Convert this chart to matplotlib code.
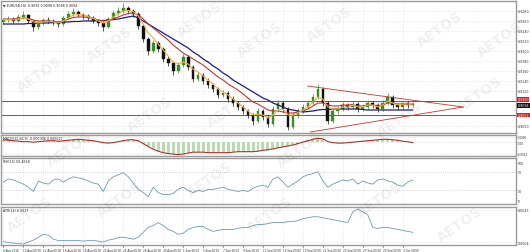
import matplotlib
matplotlib.use("Agg")
import matplotlib.pyplot as plt
import numpy as np

# ---------------- data ----------------
opens = [0.9258, 0.9262, 0.9264, 0.9260, 0.9268, 0.9272, 0.9260, 0.9248, 0.9256, 0.9262,
         0.9260, 0.9256, 0.9254, 0.9266, 0.9274, 0.9278, 0.9272, 0.9270, 0.9266, 0.9260,
         0.9256, 0.9248, 0.9264, 0.9276, 0.9280, 0.9286, 0.9280, 0.9274, 0.9250, 0.9224,
         0.9200, 0.9216, 0.9204, 0.9184, 0.9176, 0.9160, 0.9172, 0.9188, 0.9168, 0.9144,
         0.9152, 0.9140, 0.9132, 0.9124, 0.9112, 0.9116, 0.9104, 0.9096, 0.9088, 0.9080,
         0.9072, 0.9060, 0.9080, 0.9068, 0.9054, 0.9084, 0.9096, 0.9084, 0.9048, 0.9072,
         0.9080, 0.9088, 0.9096, 0.9108, 0.9124, 0.9096, 0.9060, 0.9080, 0.9084, 0.9092,
         0.9088, 0.9094, 0.9084, 0.9088, 0.9096, 0.9092, 0.9084, 0.9096, 0.9108, 0.9092,
         0.9088, 0.9096, 0.9092]
closes = [0.9262, 0.9264, 0.9260, 0.9268, 0.9272, 0.9260, 0.9248, 0.9256, 0.9262, 0.9260,
          0.9256, 0.9254, 0.9266, 0.9274, 0.9278, 0.9272, 0.9270, 0.9266, 0.9260, 0.9256,
          0.9248, 0.9264, 0.9276, 0.9280, 0.9286, 0.9280, 0.9274, 0.9250, 0.9224, 0.9200,
          0.9216, 0.9204, 0.9184, 0.9176, 0.9160, 0.9172, 0.9188, 0.9168, 0.9144, 0.9152,
          0.9140, 0.9132, 0.9124, 0.9112, 0.9116, 0.9104, 0.9096, 0.9088, 0.9080, 0.9072,
          0.9060, 0.9080, 0.9068, 0.9054, 0.9084, 0.9096, 0.9084, 0.9048, 0.9072, 0.9080,
          0.9088, 0.9096, 0.9108, 0.9124, 0.9096, 0.9060, 0.9080, 0.9084, 0.9092, 0.9088,
          0.9094, 0.9084, 0.9088, 0.9096, 0.9092, 0.9084, 0.9096, 0.9108, 0.9092, 0.9088,
          0.9096, 0.9092, 0.9094]
highs = [0.9266, 0.9270, 0.9268, 0.9274, 0.9280, 0.9274, 0.9262, 0.9260, 0.9266, 0.9268,
         0.9264, 0.9260, 0.9270, 0.9280, 0.9286, 0.9282, 0.9276, 0.9274, 0.9270, 0.9264,
         0.9258, 0.9268, 0.9282, 0.9288, 0.9296, 0.9290, 0.9284, 0.9278, 0.9254, 0.9228,
         0.9222, 0.9220, 0.9208, 0.9190, 0.9180, 0.9178, 0.9194, 0.9192, 0.9172, 0.9158,
         0.9156, 0.9146, 0.9136, 0.9128, 0.9122, 0.9120, 0.9110, 0.9100, 0.9092, 0.9084,
         0.9076, 0.9086, 0.9084, 0.9072, 0.9090, 0.9102, 0.9100, 0.9088, 0.9078, 0.9086,
         0.9094, 0.9102, 0.9114, 0.9134, 0.9128, 0.9100, 0.9086, 0.9090, 0.9098, 0.9096,
         0.9100, 0.9098, 0.9094, 0.9102, 0.9100, 0.9096, 0.9102, 0.9116, 0.9112, 0.9096,
         0.9100, 0.9100, 0.9098]
lows = [0.9254, 0.9258, 0.9256, 0.9258, 0.9264, 0.9256, 0.9240, 0.9244, 0.9252, 0.9256,
        0.9252, 0.9248, 0.9250, 0.9262, 0.9270, 0.9268, 0.9264, 0.9262, 0.9256, 0.9250,
        0.9240, 0.9246, 0.9262, 0.9272, 0.9276, 0.9274, 0.9268, 0.9244, 0.9218, 0.9192,
        0.9196, 0.9198, 0.9178, 0.9170, 0.9152, 0.9156, 0.9168, 0.9162, 0.9138, 0.9140,
        0.9134, 0.9126, 0.9118, 0.9106, 0.9108, 0.9098, 0.9090, 0.9082, 0.9074, 0.9066,
        0.9052, 0.9056, 0.9062, 0.9048, 0.9050, 0.9080, 0.9078, 0.9042, 0.9044, 0.9066,
        0.9076, 0.9084, 0.9092, 0.9104, 0.9090, 0.9054, 0.9056, 0.9074, 0.9080, 0.9082,
        0.9084, 0.9078, 0.9080, 0.9084, 0.9086, 0.9078, 0.9080, 0.9092, 0.9086, 0.9082,
        0.9084, 0.9086, 0.9088]

ma_fast = [0.9262, 0.9263, 0.9262, 0.9264, 0.9266, 0.9264, 0.9258, 0.9256, 0.9258, 0.9260,
           0.9258, 0.9256, 0.9260, 0.9266, 0.9272, 0.9273, 0.9272, 0.9269, 0.9265, 0.9260,
           0.9256, 0.9260, 0.9268, 0.9274, 0.9280, 0.9281, 0.9279, 0.9270, 0.9254, 0.9236,
           0.9226, 0.9214, 0.9202, 0.9190, 0.9178, 0.9174, 0.9178, 0.9174, 0.9164, 0.9158,
           0.9150, 0.9142, 0.9134, 0.9124, 0.9118, 0.9112, 0.9104, 0.9096, 0.9088, 0.9080,
           0.9072, 0.9074, 0.9072, 0.9066, 0.9072, 0.9082, 0.9084, 0.9072, 0.9072, 0.9076,
           0.9082, 0.9088, 0.9098, 0.9108, 0.9104, 0.9088, 0.9084, 0.9084, 0.9088, 0.9088,
           0.9092, 0.9088, 0.9088, 0.9092, 0.9092, 0.9088, 0.9092, 0.9100, 0.9096, 0.9092,
           0.9094, 0.9094, 0.9094]
ma_mid = [0.9264, 0.9264, 0.9264, 0.9265, 0.9266, 0.9265, 0.9262, 0.9260, 0.9260, 0.9260,
          0.9259, 0.9258, 0.9260, 0.9264, 0.9267, 0.9268, 0.9268, 0.9267, 0.9265, 0.9262,
          0.9260, 0.9261, 0.9264, 0.9268, 0.9272, 0.9275, 0.9276, 0.9272, 0.9264, 0.9254,
          0.9246, 0.9238, 0.9230, 0.9222, 0.9212, 0.9204, 0.9196, 0.9190, 0.9184, 0.9178,
          0.9172, 0.9164, 0.9156, 0.9148, 0.9142, 0.9134, 0.9128, 0.9122, 0.9114, 0.9106,
          0.9098, 0.9094, 0.9088, 0.9082, 0.9080, 0.9080, 0.9078, 0.9076, 0.9076, 0.9078,
          0.9080, 0.9084, 0.9090, 0.9096, 0.9096, 0.9092, 0.9090, 0.9090, 0.9092, 0.9092,
          0.9092, 0.9090, 0.9090, 0.9092, 0.9092, 0.9090, 0.9092, 0.9096, 0.9096, 0.9094,
          0.9094, 0.9094, 0.9094]
ma_slow = [0.9254, 0.9254, 0.9254, 0.9254, 0.9254, 0.9255, 0.9255, 0.9256, 0.9256, 0.9256,
           0.9257, 0.9257, 0.9258, 0.9258, 0.9259, 0.9259, 0.9260, 0.9260, 0.9260, 0.9261,
           0.9261, 0.9262, 0.9263, 0.9264, 0.9266, 0.9268, 0.9270, 0.9266, 0.9260, 0.9254,
           0.9248, 0.9242, 0.9236, 0.9230, 0.9224, 0.9218, 0.9212, 0.9206, 0.9198, 0.9192,
           0.9184, 0.9178, 0.9170, 0.9164, 0.9156, 0.9150, 0.9142, 0.9136, 0.9130, 0.9124,
           0.9118, 0.9112, 0.9106, 0.9102, 0.9096, 0.9092, 0.9088, 0.9084, 0.9082, 0.9080,
           0.9078, 0.9079, 0.9080, 0.9082, 0.9083, 0.9083, 0.9084, 0.9084, 0.9084, 0.9084,
           0.9084, 0.9084, 0.9083, 0.9082, 0.9082, 0.9082, 0.9082, 0.9082, 0.9082, 0.9082,
           0.9082, 0.9082, 0.9082]

macd = [0.00027, 0.00022, 0.00017, 0.00012, 0.00007, 0.00007, 0.00002, 0.00007, 0.00012, 0.00017,
        0.00017, 0.00012, 0.00017, 0.00022, 0.00027, 0.00032, 0.00027, 0.00022, 0.00017, 0.00007,
        -0.00003, -0.00008, -0.00003, 0.00007, 0.00017, 0.00027, 0.00027, 0.00017, -0.00013, -0.00043,
        -0.00073, -0.00093, -0.00108, -0.00118, -0.00123, -0.00128, -0.00123, -0.00113, -0.00103, -0.00103,
        -0.00103, -0.00108, -0.00108, -0.00108, -0.00108, -0.00108, -0.00103, -0.00098, -0.00098, -0.00098,
        -0.00098, -0.00093, -0.00083, -0.00078, -0.00068, -0.00058, -0.00048, -0.00038, -0.00028, -0.00013,
        0.00002, 0.00017, 0.00032, 0.00042, 0.00037, 0.00007, -0.00003, -0.00008, -0.00008, -0.00003,
        0.00002, 0.00007, 0.00012, 0.00017, 0.00022, 0.00027, 0.00032, 0.00032, 0.00027, 0.00022,
        0.00012, 0.00007, -0.00003]

rsi = [47.7, 54.5, 52.3, 47.7, 43.2, 36.4, 27.3, 50.0, 45.5, 43.2,
       52.3, 54.5, 47.7, 54.5, 59.1, 56.8, 54.5, 50.0, 45.5, 43.2,
       27.3, 50.0, 59.1, 63.6, 68.2, 59.1, 45.5, 31.8, 25.0, 15.9,
       36.4, 25.0, 20.5, 20.5, 22.7, 31.8, 36.4, 29.5, 25.0, 29.5,
       27.3, 31.8, 31.8, 34.1, 36.4, 31.8, 29.5, 27.3, 29.5, 27.3,
       34.1, 38.6, 40.9, 36.4, 54.5, 59.1, 47.7, 36.4, 43.2, 50.0,
       59.1, 63.6, 65.9, 70.5, 50.0, 36.4, 43.2, 47.7, 52.3, 50.0,
       54.5, 43.2, 50.0, 45.5, 43.2, 52.3, 54.5, 50.0, 47.7, 40.9,
       38.6, 47.7, 52.3]

atr = [0.00075, 0.00065, 0.00060, 0.00055, 0.00050, 0.00070, 0.00090, 0.00120, 0.00150, 0.00140,
       0.00100, 0.00085, 0.00085, 0.00085, 0.00085, 0.00085, 0.00080, 0.00085, 0.00085, 0.00080,
       0.00070, 0.00090, 0.00100, 0.00115, 0.00120, 0.00110, 0.00100, 0.00120, 0.00170, 0.00220,
       0.00240, 0.00270, 0.00240, 0.00200, 0.00180, 0.00150, 0.00160, 0.00200, 0.00220, 0.00230,
       0.00230, 0.00200, 0.00180, 0.00190, 0.00200, 0.00200, 0.00200, 0.00210, 0.00220, 0.00220,
       0.00240, 0.00250, 0.00250, 0.00260, 0.00270, 0.00270, 0.00270, 0.00280, 0.00280, 0.00290,
       0.00310, 0.00320, 0.00330, 0.00330, 0.00320, 0.00310, 0.00300, 0.00290, 0.00280, 0.00270,
       0.00380, 0.00410, 0.00380, 0.00350, 0.00220, 0.00210, 0.00220, 0.00220, 0.00210, 0.00200,
       0.00190, 0.00180, 0.00170]

hlines = [0.9100, 0.9072]
tri_upper = ([60.9, 92.1], [0.9130, 0.9088])
tri_lower = ([61.5, 92.1], [0.9038, 0.9088])

date_labels = ["8 Aug 2016", "10 Aug 00:00", "12 Aug 00:00", "16 Aug 00:00", "18 Aug 00:00",
               "22 Aug 00:00", "24 Aug 00:00", "26 Aug 00:00", "30 Aug 00:00", "1 Sep 00:00",
               "5 Sep 00:00", "7 Sep 00:00", "9 Sep 00:00", "13 Sep 00:00", "15 Sep 00:00",
               "19 Sep 00:00", "21 Sep 00:00", "23 Sep 00:00", "27 Sep 00:00", "29 Sep 00:00",
               "3 Oct 00:00"]

# ---------------- figure ----------------
W, H = 530, 253
fig = plt.figure(figsize=(W / 100, H / 100), dpi=100)
fig.patch.set_facecolor("white")

def frac(top_px, bot_px):
    return [1 / W, 1 - bot_px / H, 515 / W, (bot_px - top_px) / H]

ax_p = fig.add_axes(frac(2, 134))
ax_m = fig.add_axes(frac(136, 157))
ax_r = fig.add_axes(frac(159, 205))
ax_a = fig.add_axes(frac(208, 246))
axes = [ax_p, ax_m, ax_r, ax_a]

n = len(closes)
x = np.arange(n)
xlim = (-0.5, 102.7)
tick_pos = list(range(0, 4 * len(date_labels), 4))

fs = 2.3
for ax in axes:
    ax.set_xlim(*xlim)
    ax.yaxis.tick_right()
    ax.tick_params(axis="y", labelsize=fs, length=1.0, width=0.4, pad=0.5, colors="#333333")
    ax.tick_params(axis="x", length=1.5, width=0.4, pad=0.8)
    ax.set_xticks(tick_pos)
    for sp in ax.spines.values():
        sp.set_color("#9a9a9a")
        sp.set_linewidth(1.0)
    ax.grid(True, color="#c8c8c8", linestyle=(0, (1, 2)), linewidth=0.4)
    ax.set_axisbelow(True)
for ax in axes[:-1]:
    ax.tick_params(axis="x", labelbottom=False, length=0)

# watermark
wm_pos = [(40, 75), (110, 45), (200, 20), (260, 40), (330, 25), (440, 30),
          (70, 150), (150, 115), (230, 110), (300, 150), (400, 120), (480, 95),
          (30, 215), (120, 200), (210, 180), (270, 215), (380, 200), (460, 225), (500, 40)]
for (px, py) in wm_pos:
    fig.text(px / W, 1 - py / H, "AETOS", fontsize=10, fontweight="bold", color="#000000",
             alpha=0.06, rotation=35, ha="center", va="center", zorder=0)

# ---- price panel ----
up_col, dn_col = "#3c8c28", "#111111"
for i in range(n):
    col = up_col if closes[i] >= opens[i] else dn_col
    ax_p.vlines(x[i], lows[i], highs[i], color=col, linewidth=0.5, zorder=3)
    ax_p.bar(x[i], abs(closes[i] - opens[i]) or 0.00003, bottom=min(opens[i], closes[i]),
             width=0.55, color=col, edgecolor=col, linewidth=0.3, zorder=3)
ax_p.plot(x, ma_slow, color="#1c1c86", linewidth=0.9, zorder=4)
ax_p.plot(x, ma_mid, color="#c0392b", linewidth=0.8, zorder=4)
ax_p.plot(x, ma_fast, color="#f0b040", linewidth=0.8, zorder=4)
for h in hlines:
    ax_p.axhline(h, color="#c0392b", linewidth=0.7, zorder=2)
ax_p.plot(*tri_upper, color="#c0392b", linewidth=0.6, zorder=5)
ax_p.plot(*tri_lower, color="#c0392b", linewidth=0.6, zorder=5)
ax_p.set_ylim(0.9036, 0.9300)
pticks = [0.9050, 0.9120, 0.9140, 0.9160, 0.9180, 0.9200, 0.9220, 0.9240, 0.9260, 0.9280]
ax_p.set_yticks(pticks)
ax_p.yaxis.set_major_formatter(matplotlib.ticker.FormatStrFormatter("%.4f"))
for val, bg, dy in [(hlines[0], "#d42020", 0.0003), (closes[-1], "#111111", -0.0003),
                    (hlines[1], "#d42020", 0.0)]:
    ax_p.text(1.003, val + dy, f"{val:.4f}", transform=ax_p.get_yaxis_transform(), fontsize=fs,
              color="white", va="center", ha="left", clip_on=False, zorder=10,
              bbox=dict(boxstyle="square,pad=0.12", fc=bg, ec="none"))
ax_p.text(0.004, 0.985, "\u25bc EURUSD,H4  0.9092 0.9098 0.9088 0.9094", transform=ax_p.transAxes,
          fontsize=fs, va="top", ha="left", color="#222222")

# ---- MACD ----
ax_m.bar(x, macd, width=0.6, color="#b8dcb0", edgecolor="none", zorder=2)
ax_m.plot(x, macd, color="#b0302a", linewidth=0.8, zorder=3)
ax_m.set_ylim(-0.00143, 0.00077)
ax_m.set_yticks([0.0006, 0.0, -0.0012])
ax_m.set_yticklabels(["0.0006", "0.00", "-0.0012"])
ax_m.tick_params(axis="y", labelsize=2.0)
ax_m.text(0.004, 0.96, "MACD(12,26,9) -0.000006 0.000017", transform=ax_m.transAxes,
          fontsize=fs, va="top", ha="left", color="#222222")

# ---- RSI ----
ax_r.plot(x, rsi, color="#6a9ab8", linewidth=0.6, zorder=3)
ax_r.set_ylim(0, 100)
ax_r.set_yticks([90, 70, 30, 8])
ax_r.set_yticklabels(["100", "70", "30", "0"])
ax_r.grid(False)
ax_r.grid(True, axis="x", color="#c8c8c8", linestyle=(0, (1, 2)), linewidth=0.4)
for lv in [70, 30]:
    ax_r.axhline(lv, color="#b0b0b0", linestyle=(0, (1, 2)), linewidth=0.5)
ax_r.text(0.004, 0.97, "RSI(14) 50.4658", transform=ax_r.transAxes,
          fontsize=fs, va="top", ha="left", color="#222222")

# ---- ATR ----
ax_a.plot(x, atr, color="#6a9ab8", linewidth=0.6, zorder=3)
ax_a.set_ylim(0.0004, 0.0043)
ax_a.set_yticks([0.0040, 0.0007])
ax_a.set_yticklabels(["0.0043", "0.0004"])
ax_a.text(0.004, 0.97, "ATR(14) 0.0017", transform=ax_a.transAxes,
          fontsize=fs, va="top", ha="left", color="#222222")
ax_a.set_xticklabels(date_labels, fontsize=2.0, ha="left", color="#333333")

fig.savefig("out.png", dpi=100, facecolor="white")
